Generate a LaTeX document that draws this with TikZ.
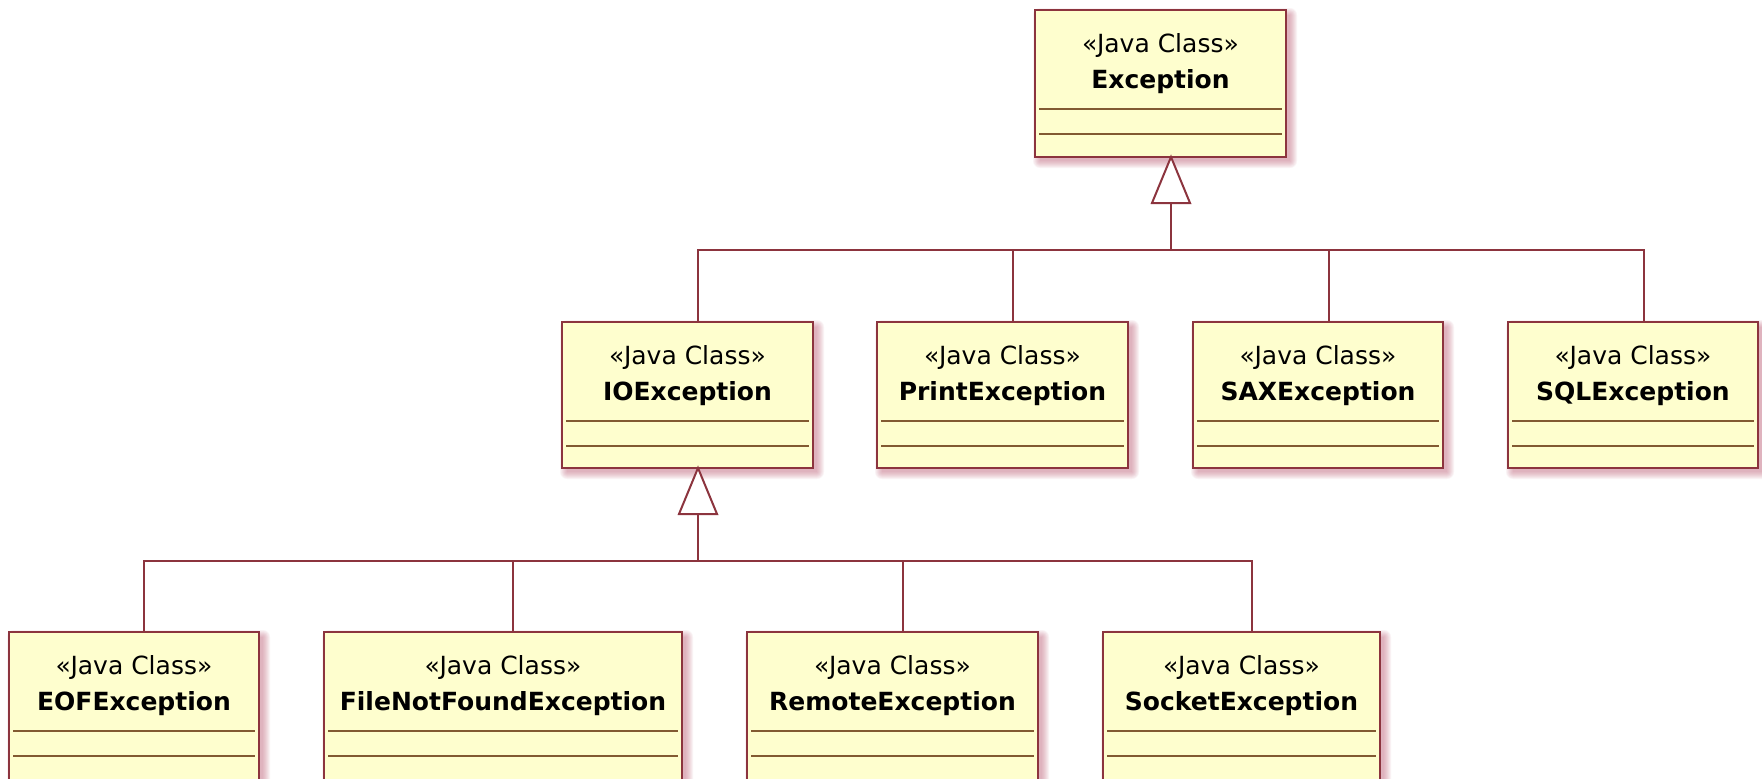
\documentclass[tikz,border=0pt]{standalone}
\usepackage{fontspec}
\setmainfont{DejaVu Sans}
\definecolor{umlborder}{RGB}{140,52,62}
\definecolor{umlcomp}{RGB}{130,90,50}
\definecolor{umlfill}{RGB}{254,254,206}
\definecolor{umlshadow}{RGB}{190,90,115}
\tikzset{
  classbox/.style={draw=umlborder, fill=umlfill, line width=2pt, rectangle, inner sep=0pt, outer sep=0pt, anchor=north west},
  comp/.style={draw=umlcomp, line width=2pt},
  stereo/.style={font=\fontsize{25}{30}\selectfont, inner sep=0pt, anchor=base},
  cname/.style={font=\fontsize{25}{30}\selectfont\bfseries, inner sep=0pt, anchor=base},
  conn/.style={draw=umlborder, line width=2pt},
  gen/.style={draw=umlborder, line width=2pt, fill=white, line join=miter},
}
% name, left x, top y, width, height, label
\newcommand\umlclass[6]{%
  \foreach \k in {0,...,7}{\fill[umlshadow, opacity=0.07, rounded corners=\k pt] ({#2+5-\k},{#3+5-\k}) rectangle ({#2+#4+4+\k},{#3+#5+4+\k});}
  \node[classbox, minimum width=#4pt, minimum height=#5pt] (#1) at (#2,#3) {};
  \draw[comp] ([shift={(4,99)}]#1.north west) -- ([shift={(-4,99)}]#1.north east);
  \draw[comp] ([shift={(4,124)}]#1.north west) -- ([shift={(-4,124)}]#1.north east);
  \node[stereo] (#1-st) at ([shift={(0,42)}]#1.north) {«Java Class»};
  \node[cname] (#1-nm) at ([shift={(0,78)}]#1.north) {#6};
}
\begin{document}
\begin{tikzpicture}[x=1pt, y=-1pt]
\useasboundingbox (0,0) rectangle (1762,779);
\clip (0,0) rectangle (1762,779);
\fill[white] (0,0) rectangle (1762,779);

\umlclass{ex}{1035}{10}{251}{147}{Exception}
\umlclass{io}{562}{322}{251}{146}{IOException}
\umlclass{pr}{877}{322}{251}{146}{PrintException}
\umlclass{sax}{1193}{322}{250}{146}{SAXException}
\umlclass{sql}{1508}{322}{250}{146}{SQLException}
\umlclass{eof}{9}{632}{250}{152}{EOFException}
\umlclass{fnf}{324}{632}{358}{152}{FileNotFoundException}
\umlclass{rem}{747}{632}{291}{152}{RemoteException}
\umlclass{soc}{1103}{632}{277}{152}{SocketException}

\coordinate (bus1) at (0,250);
\coordinate (bus2) at (0,561);
\coordinate (exB) at ([xshift=10.5pt]ex.south);
\coordinate (ioB) at ([xshift=10.5pt]io.south);
\coordinate (ioC) at ([xshift=10.5pt]io.north);
\coordinate (prC) at ([xshift=10.5pt]pr.north);
\coordinate (saxC) at ([xshift=10.5pt]sax.north);
\coordinate (sqlC) at ([xshift=10.5pt]sql.north);
\coordinate (eofC) at ([xshift=10pt]eof.north);
\coordinate (fnfC) at ([xshift=10pt]fnf.north);
\coordinate (remC) at ([xshift=10pt]rem.north);
\coordinate (socC) at ([xshift=10pt]soc.north);

% Exception hierarchy
\draw[conn] (ioC) -- (ioC |- bus1) -- (sqlC |- bus1) -- (sqlC);
\draw[conn] (prC) -- (prC |- bus1);
\draw[conn] (saxC) -- (saxC |- bus1);
\draw[conn] ([yshift=-46pt]exB) -- (exB |- bus1);
\draw[gen] (exB) -- ++(-19,46) -- ++(38,0) -- cycle;

% IOException hierarchy
\draw[conn] (eofC) -- (eofC |- bus2) -- (socC |- bus2) -- (socC);
\draw[conn] (fnfC) -- (fnfC |- bus2);
\draw[conn] (remC) -- (remC |- bus2);
\draw[conn] ([yshift=-46pt]ioB) -- (ioB |- bus2);
\draw[gen] (ioB) -- ++(-19,46) -- ++(38,0) -- cycle;
\end{tikzpicture}
\end{document}
